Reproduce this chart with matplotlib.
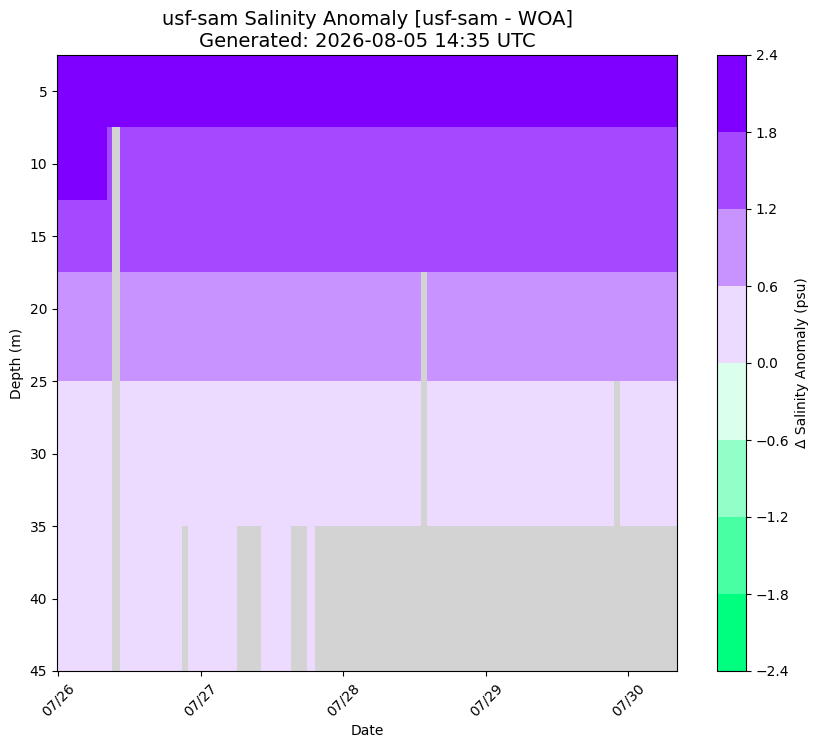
import numpy as np
import pandas as pd
import matplotlib
matplotlib.use("Agg")
import matplotlib.pyplot as plt
import matplotlib.dates as mdates
from matplotlib.colors import LinearSegmentedColormap, BoundaryNorm

# depth bins (m) and representative anomaly per bin
depths = [5, 10, 15, 20, 30, 40]
depth_anomaly = [2.1, 1.5, 1.5, 0.9, 0.3, 0.3]

# early period where 10 m is still in the top class
early_10m_end = "2026-07-26 08:00"
early_10m_value = 2.1

# missing data: (shallowest depth with no data, start, end)
gaps = [
    (10, "2026-07-26 09:20", "2026-07-26 10:20"),
    (40, "2026-07-26 21:00", "2026-07-26 21:40"),
    (40, "2026-07-27 06:20", "2026-07-27 10:00"),
    (40, "2026-07-27 15:20", "2026-07-27 17:40"),
    (40, "2026-07-27 19:20", "2026-07-30 08:00"),
    (20, "2026-07-28 13:20", "2026-07-28 14:00"),
    (30, "2026-07-29 21:40", "2026-07-29 22:20"),
]

levels = [-2.4, -1.8, -1.2, -0.6, 0.0, 0.6, 1.2, 1.8, 2.4]

# 20 minute sampling
times = pd.date_range("2026-07-26 00:00", "2026-07-30 08:00", freq="20min")

anom = np.tile(np.array(depth_anomaly)[:, None], (1, len(times)))
anom[depths.index(10), times <= pd.Timestamp(early_10m_end)] = early_10m_value
for d, t0, t1 in gaps:
    tmask = (times >= pd.Timestamp(t0)) & (times <= pd.Timestamp(t1))
    for i, dd in enumerate(depths):
        if dd >= d:
            anom[i, tmask] = np.nan

cmap = LinearSegmentedColormap.from_list("anom", ["#00ff7f", "white", "#7f00ff"], N=8)
cmap.set_bad("lightgray")
norm = BoundaryNorm(levels, cmap.N)

fig = plt.figure(figsize=(8.19, 7.48), dpi=100)
ax = fig.add_axes([57/819, 77/748, 620/819, 616/748])
cax = fig.add_axes([717/819, 77/748, 29/819, 616/748])

pc = ax.pcolormesh(times, depths, np.ma.masked_invalid(anom), cmap=cmap, norm=norm, shading="nearest")
ax.invert_yaxis()
ax.set_ylabel("Depth (m)")
ax.set_xlabel("Date")
ax.xaxis.set_major_locator(mdates.DayLocator())
ax.xaxis.set_major_formatter(mdates.DateFormatter("%m/%d"))
plt.setp(ax.get_xticklabels(), rotation=45)
ax.set_title("usf-sam Salinity Anomaly [usf-sam - WOA]\nGenerated: 2026-08-05 14:35 UTC", fontsize=14)

cb = fig.colorbar(pc, cax=cax, ticks=levels)
cb.set_label("Δ Salinity Anomaly (psu)")

plt.savefig("out.png", dpi=100)
